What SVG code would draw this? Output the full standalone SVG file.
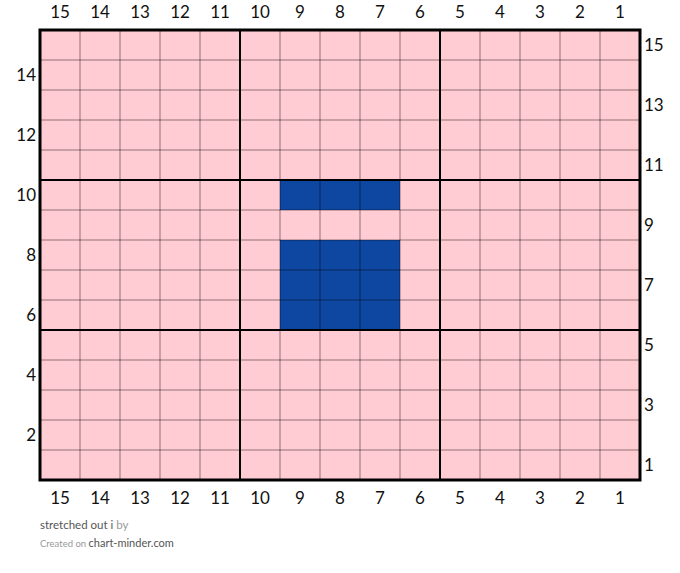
<svg xmlns="http://www.w3.org/2000/svg" width="680" height="573" viewBox="0 0 680 573">
<style>
.lbl{font-family:Lato,"Liberation Sans",sans-serif;font-size:17px;fill:#111}
.thin{stroke:#000;stroke-opacity:0.45;stroke-width:1;fill:none}
.thick{stroke:#000;stroke-width:2;fill:none}
.ft{font-family:Lato,"Liberation Sans",sans-serif}
</style>
<rect width="680" height="573" fill="#fff"/>
<g id="chart">
<rect x="40" y="30" width="600" height="450" fill="#ffccd3"/>
<g id="stitches" fill="#0d47a1">
<rect x="280" y="180" width="120" height="30"/>
<rect x="280" y="240" width="120" height="90"/>
</g>
<g id="gridlines" class="thin">
<path d="M80 30V480M120 30V480M160 30V480M200 30V480M280 30V480M320 30V480M360 30V480M400 30V480M480 30V480M520 30V480M560 30V480M600 30V480"/>
<path d="M40 60H640M40 90H640M40 120H640M40 150H640M40 210H640M40 240H640M40 270H640M40 300H640M40 360H640M40 390H640M40 420H640M40 450H640"/>
</g>
<g class="thick">
<path d="M240 30V480M440 30V480M40 180H640M40 330H640"/>
<rect x="40" y="30" width="600" height="450" stroke-width="3"/>
</g>
</g>
<g id="col-top" class="lbl" text-anchor="middle">
<text x="60" y="18">15</text><text x="100" y="18">14</text><text x="140" y="18">13</text><text x="180" y="18">12</text><text x="220" y="18">11</text><text x="260" y="18">10</text><text x="300" y="18">9</text><text x="340" y="18">8</text><text x="380" y="18">7</text><text x="420" y="18">6</text><text x="460" y="18">5</text><text x="500" y="18">4</text><text x="540" y="18">3</text><text x="580" y="18">2</text><text x="620" y="18">1</text>
</g>
<g id="col-bottom" class="lbl" text-anchor="middle">
<text x="60" y="504">15</text><text x="100" y="504">14</text><text x="140" y="504">13</text><text x="180" y="504">12</text><text x="220" y="504">11</text><text x="260" y="504">10</text><text x="300" y="504">9</text><text x="340" y="504">8</text><text x="380" y="504">7</text><text x="420" y="504">6</text><text x="460" y="504">5</text><text x="500" y="504">4</text><text x="540" y="504">3</text><text x="580" y="504">2</text><text x="620" y="504">1</text>
</g>
<g id="row-left" class="lbl" text-anchor="end">
<text x="36" y="81">14</text><text x="36" y="141">12</text><text x="36" y="201">10</text><text x="36" y="261">8</text><text x="36" y="321">6</text><text x="36" y="381">4</text><text x="36" y="441">2</text>
</g>
<g id="row-right" class="lbl">
<text x="644" y="51">15</text><text x="644" y="111">13</text><text x="644" y="171">11</text><text x="644" y="231">9</text><text x="644" y="291">7</text><text x="644" y="351">5</text><text x="644" y="411">3</text><text x="644" y="471">1</text>
</g>
<g id="footer" class="ft">
<text x="40" y="529" font-size="11.5"><tspan fill="#555">stretched out i</tspan><tspan fill="#999"> by</tspan></text>
<text x="40" y="547" font-size="9.5" fill="#999">Created on <tspan font-size="11" fill="#555">chart-minder.com</tspan></text>
</g>
</svg>
